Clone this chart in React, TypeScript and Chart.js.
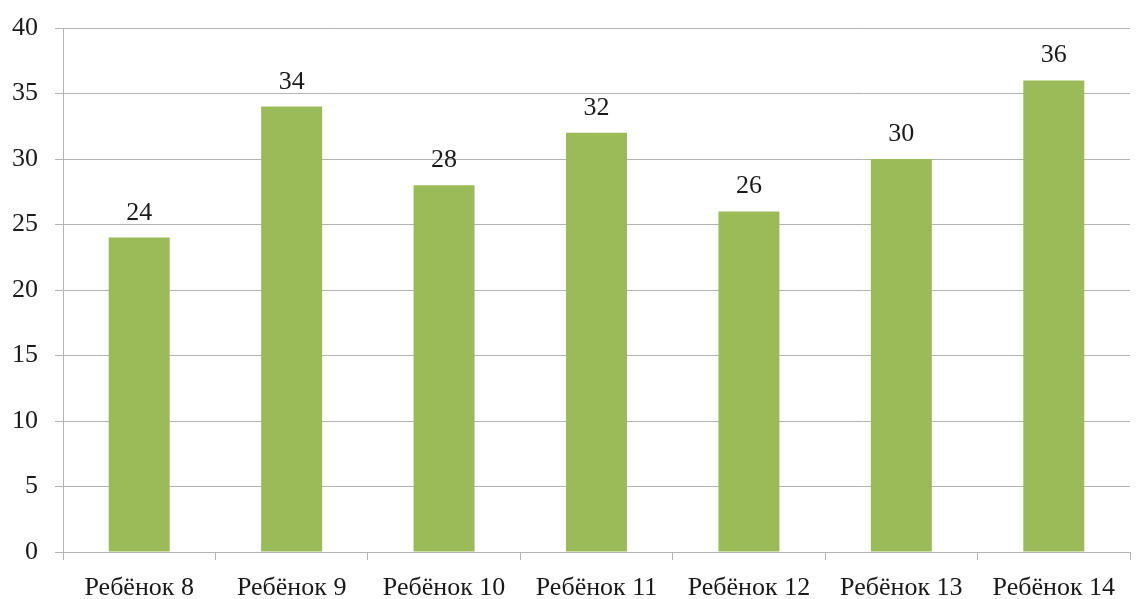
import React, { useEffect, useRef } from "react";
import { Chart, registerables } from "chart.js";

Chart.register(...registerables);

const categories = ["Ребёнок 8", "Ребёнок 9", "Ребёнок 10", "Ребёнок 11", "Ребёнок 12", "Ребёнок 13", "Ребёнок 14"];
const values = [24, 34, 28, 32, 26, 30, 36];

const FONT = "'Liberation Serif', 'Times New Roman', serif";
const TEXT = "#1a1a1a";
const GRID = "#b3b3b3";
const BAR = "#9bbb59";

const valueLabels = {
  id: "valueLabels",
  afterDatasetsDraw(chart: any) {
    const ctx = chart.ctx;
    const meta = chart.getDatasetMeta(0);
    ctx.save();
    ctx.font = `26px ${FONT}`;
    ctx.fillStyle = TEXT;
    ctx.textAlign = "center";
    ctx.textBaseline = "alphabetic";
    meta.data.forEach((el: any, i: number) => {
      ctx.fillText(String(values[i]), el.x, el.y - 18);
    });
    ctx.restore();
  },
};

export default function App() {
  const ref = useRef<HTMLCanvasElement>(null);
  useEffect(() => {
    if (!ref.current) return;
    const chart = new Chart(ref.current, {
      type: "bar",
      data: {
        labels: categories,
        datasets: [
          {
            data: values,
            backgroundColor: BAR,
            borderWidth: 0,
            barPercentage: 0.4,
            categoryPercentage: 1,
          },
        ],
      },
      options: {
        animation: false,
        responsive: false,
        maintainAspectRatio: false,
        layout: { padding: { top: 28, right: 7, left: 0, bottom: 0 } },
        plugins: { legend: { display: false }, tooltip: { enabled: false } },
        scales: {
          x: {
            grid: {
              display: true,
              drawOnChartArea: false,
              drawTicks: true,
              tickLength: 8,
              color: GRID,
              offset: true,
            },
            border: { display: true, color: GRID, width: 1 },
            ticks: {
              color: TEXT,
              font: { family: FONT, size: 26 },
              padding: 13,
              maxRotation: 0,
              autoSkip: false,
            },
            afterFit(scale: any) {
              scale.height = 47;
            },
          },
          y: {
            min: 0,
            max: 40,
            grid: {
              color: GRID,
              tickLength: 8,
              drawTicks: true,
            },
            border: { display: true, color: GRID, width: 1 },
            ticks: {
              stepSize: 5,
              color: TEXT,
              font: { family: FONT, size: 26, lineHeight: 0.5 },
              padding: 17,
            },
            afterFit(scale: any) {
              scale.width = 63;
            },
          },
        },
      },
      plugins: [valueLabels],
    });
    return () => chart.destroy();
  }, []);
  return (
    <div style={{ position: "fixed", left: 0, top: 0, width: 1137, height: 599, background: "#fff" }}>
      <canvas ref={ref} width={1137} height={599} style={{ display: "block" }} />
    </div>
  );
}
